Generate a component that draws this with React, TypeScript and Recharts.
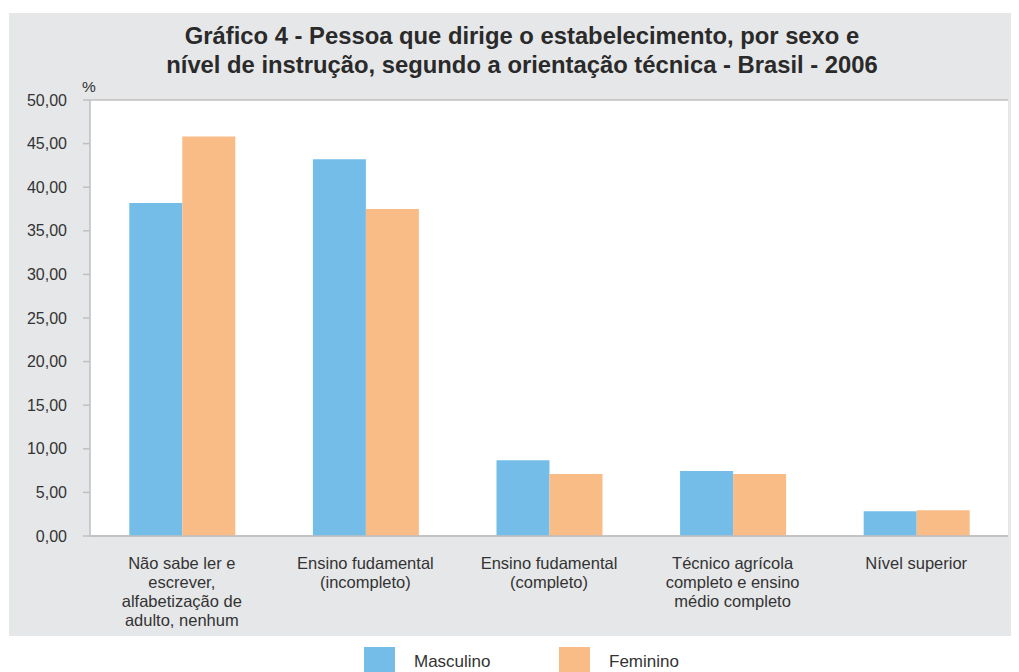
import React from "react";
import { BarChart, Bar, XAxis, YAxis, CartesianGrid } from "recharts";

const categories: string[][] = [
  ["Não sabe ler e", "escrever,", "alfabetização de", "adulto, nenhum"],
  ["Ensino fudamental", "(incompleto)"],
  ["Ensino fudamental", "(completo)"],
  ["Técnico agrícola", "completo e ensino", "médio completo"],
  ["Nível superior"],
];
const masculino: number[] = [38.2, 43.2, 8.7, 7.45, 2.85];
const feminino: number[] = [45.8, 37.5, 7.1, 7.1, 2.95];
const yTicks: number[] = [0, 5, 10, 15, 20, 25, 30, 35, 40, 45, 50];
const seriesNames = ["Masculino", "Feminino"];
const titleLines = [
  "Gráfico 4 - Pessoa que dirige o estabelecimento, por sexo e",
  "nível de instrução, segundo a orientação técnica - Brasil - 2006",
];

const BLUE = "#74bde8";
const ORANGE = "#f9bc87";
const BG = "#e6e7e9";
const GRID = "#bfbfbf";
const TEXT = "#333333";
const FONT = "'Liberation Sans', Arial, sans-serif";

const data = categories.map((c, i) => ({
  key: String(i),
  lines: c,
  m: masculino[i],
  f: feminino[i],
}));

const CatTick = (props: any) => {
  const { x, y, payload } = props;
  const lines = categories[Number(payload.value)] || [];
  return (
    <text x={x} y={y} textAnchor="middle" fill={TEXT} fontSize={16.5} fontFamily={FONT}>
      {lines.map((l, i) => (
        <tspan key={i} x={x} y={y + 25 + i * 19}>
          {l}
        </tspan>
      ))}
    </text>
  );
};

const fmt = (v: number) => v.toFixed(2).replace(".", ",");

export default function App() {
  return (
    <div style={{ position: "relative", width: 1011, height: 664, fontFamily: FONT }}>
      <div
        style={{
          position: "absolute",
          left: 1,
          top: 5,
          width: 1010,
          height: 623,
          background: BG,
        }}
      />
      <div
        style={{
          position: "absolute",
          left: 0,
          top: 13,
          width: 1028,
          textAlign: "center",
          fontWeight: "bold",
          fontSize: 23.8,
          lineHeight: "29px",
          color: "#2a2a2a",
        }}
      >
        {titleLines.map((t, i) => (
          <div key={i}>{t}</div>
        ))}
      </div>
      <div style={{ position: "absolute", left: 74, top: 70, fontSize: 15.5, color: TEXT }}>%</div>
      <div style={{ position: "absolute", left: 0, top: 0 }}>
        <BarChart
          width={1011}
          height={664}
          data={data}
          margin={{ top: 92, right: 11, left: 0, bottom: 0 }}
          barCategoryGap="21.4%"
          barGap={0}
        >
          <CartesianGrid vertical={false} stroke={GRID} strokeWidth={1.5} fill="#ffffff" />
          <XAxis
            dataKey="key"
            xAxisId="cat"
            tick={<CatTick />}
            tickLine={false}
            axisLine={{ stroke: GRID, strokeWidth: 1.5 }}
            interval={0}
            height={136}
          />
          <XAxis
            xAxisId="num"
            type="number"
            domain={[0, 5]}
            ticks={[0, 1, 2, 3, 4, 5]}
            tick={false}
            tickLine={{ stroke: GRID, strokeWidth: 1.5 }}
            tickSize={5}
            axisLine={false}
            height={0}
          />
          <YAxis
            yAxisId="l"
            domain={[0, 50]}
            ticks={yTicks}
            tickFormatter={fmt}
            width={82}
            tickSize={7}
            tickMargin={16}
            tick={{ fill: TEXT, fontSize: 16, fontFamily: FONT }}
            tickLine={{ stroke: GRID, strokeWidth: 1.5 }}
            axisLine={{ stroke: GRID, strokeWidth: 1.5 }}
            interval={0}
          />
          <YAxis
            yAxisId="r"
            orientation="right"
            domain={[0, 50]}
            tick={false}
            tickLine={false}
            axisLine={{ stroke: GRID, strokeWidth: 1.5 }}
            width={0}
          />
          <Bar dataKey="m" name={seriesNames[0]} xAxisId="cat" yAxisId="l" fill={BLUE} isAnimationActive={false} />
          <Bar dataKey="f" name={seriesNames[1]} xAxisId="cat" yAxisId="l" fill={ORANGE} isAnimationActive={false} />
        </BarChart>
      </div>
      {seriesNames.map((n, i) => (
        <div key={n} style={{ position: "absolute", left: 356 + i * 195, top: 639 }}>
          <div
            style={{
              position: "absolute",
              left: 0,
              top: 0,
              width: 31,
              height: 30,
              background: i === 0 ? BLUE : ORANGE,
            }}
          />
          <div
            style={{
              position: "absolute",
              left: 50,
              top: 5,
              fontSize: 17,
              color: TEXT,
              whiteSpace: "nowrap",
            }}
          >
            {n}
          </div>
        </div>
      ))}
    </div>
  );
}
